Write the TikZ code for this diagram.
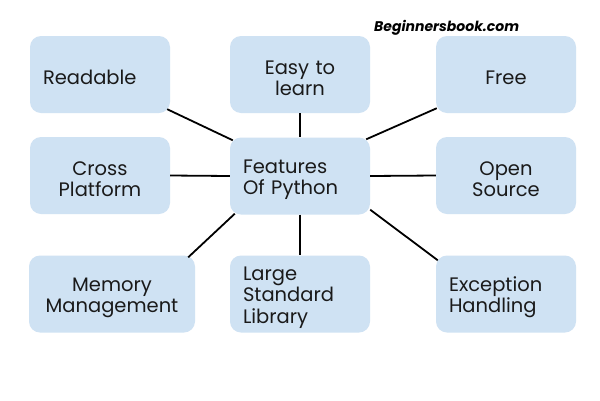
\documentclass[tikz,border=0pt]{standalone}
\usepackage{fontspec}
\setmainfont{Poppins}
\usetikzlibrary{calc}
\definecolor{boxblue}{HTML}{CFE2F3}
\definecolor{inktext}{HTML}{1A1A1A}
\tikzset{
  featbox/.style={rectangle, rounded corners=11pt, fill=boxblue, draw=none,
    minimum height=77pt, minimum width=140pt, text width=114pt,
    inner xsep=13pt, inner ysep=0pt, text=inktext,
    font=\fontsize{19.5}{21.5}\selectfont,
    execute at begin node={\rule{0pt}{21pt}}},
  leftbox/.style={featbox, align=left},
  midbox/.style={featbox, align=center},
  link/.style={line width=1.8pt, draw=black}
}
\begin{document}
\begin{tikzpicture}[x=1pt,y=-1pt]
\useasboundingbox (0,0) rectangle (600,400);
\fill[white] (0,0) rectangle (600,400);
\node[leftbox] (read) at (100,74.5) {Readable};
\node[midbox] (easy) at (300,74.5) {Easy to\\learn};
\node[midbox] (free) at (506,74.5) {Free};
\node[midbox] (cross) at (100,175.5) {Cross\\Platform};
\node[leftbox] (feat) at (300,176) {Features\\Of Python};
\node[midbox] (open) at (506,175.5) {Open\\Source};
\node[midbox, minimum width=166pt, text width=140pt] (mem) at (112,294) {Memory\\Management};
\node[leftbox] (lib) at (300,294) {Large\\Standard\\Library};
\node[leftbox] (exc) at (506,294) {Exception\\Handling};
\node[anchor=base west, inner sep=0pt, font=\fontsize{14}{16}\selectfont\bfseries\itshape] (brand) at (374,31) {Beginnersbook.com};
\draw[link] ($(read.south east)+(-3,-4)$) -- ($(feat.north west)+(3,3)$);
\draw[link] (easy.south) -- (feat.north);
\draw[link] ($(feat.north east)+(-4,2)$) -- ($(free.south west)+(1,-5)$);
\draw[link] (cross.east) -- (feat.west);
\draw[link] (feat.east) -- (open.west);
\draw[link] ($(mem.north east)+(-7,2)$) -- ($(feat.south west)+(5,-1)$);
\draw[link] (feat.south) -- (lib.north);
\draw[link] ($(feat.south east)+(0,-5)$) -- ($(exc.north west)+(2,5)$);
\end{tikzpicture}
\end{document}
